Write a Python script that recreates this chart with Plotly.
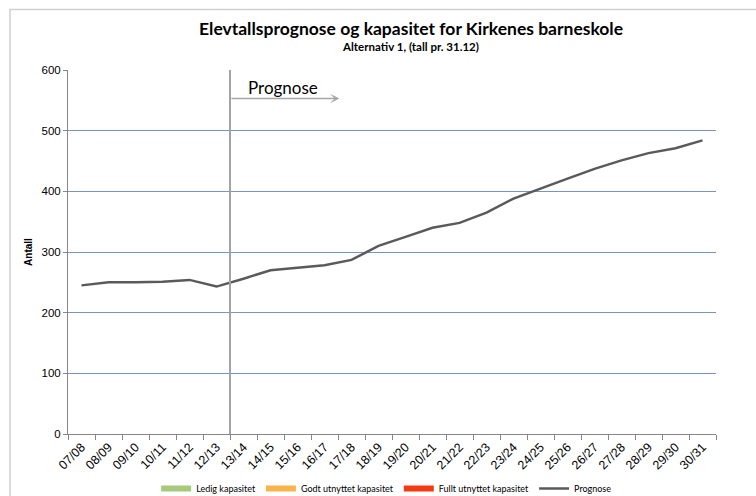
import plotly.graph_objects as go

# School years on the category axis
years = ["07/08", "08/09", "09/10", "10/11", "11/12", "12/13", "13/14", "14/15",
         "15/16", "16/17", "17/18", "18/19", "19/20", "20/21", "21/22", "22/23",
         "23/24", "24/25", "25/26", "26/27", "27/28", "28/29", "29/30", "30/31"]

# Pupil numbers (registered up to 12/13, forecast afterwards)
prognose = [245, 250, 250, 251, 254, 243, 256, 270, 274, 278, 287, 310,
            325, 340, 348, 365, 388, 405, 421, 437, 451, 463, 471, 484]

# Capacity bands (no values drawn in this alternative)
ledig = [None] * len(years)
godt = [None] * len(years)
fullt = [None] * len(years)

y_ticks = [0, 100, 200, 300, 400, 500, 600]

# Start of the forecast period and end of the arrow (category positions)
forecast_start = 5.5
arrow_end = 9.55
arrow_level = 553

fig = go.Figure()

for name, vals, color in [("Ledig kapasitet", ledig, "#a6c97a"),
                          ("Godt utnyttet kapasitet", godt, "#f9b54c"),
                          ("Fullt utnyttet kapasitet", fullt, "#f33a12")]:
    fig.add_trace(go.Scatter(x=years, y=vals, name=name, mode="none",
                             fill="tozeroy", fillcolor=color))
fig.add_trace(go.Scatter(x=years, y=prognose, name="Prognose", mode="lines",
                         line=dict(color="#5a5a5a", width=2.5)))

# Vertical divider marking the forecast start
fig.add_shape(type="line", xref="x", yref="y", x0=forecast_start, x1=forecast_start,
              y0=0, y1=600, line=dict(color="#a3a3a3", width=2), layer="above")

# Arrow pointing into the forecast period
fig.add_annotation(x=arrow_end, y=arrow_level, ax=forecast_start, ay=arrow_level,
                   xref="x", yref="y", axref="x", ayref="y", text="",
                   showarrow=True, arrowhead=3, arrowsize=1.2, arrowwidth=1.3,
                   arrowcolor="#a6a6a6")
fig.add_annotation(x=(forecast_start + 0.6), y=arrow_level, xref="x", yref="y",
                   text="Prognose", showarrow=False, xanchor="left", yanchor="bottom",
                   yshift=-1,
                   font=dict(family="Lato", size=17, color="#000000"))

# Title and subtitle
fig.add_annotation(x=0.529, y=1.0, xref="paper", yref="paper", yanchor="bottom",
                   yshift=29, text="<b>Elevtallsprognose og kapasitet for Kirkenes barneskole</b>",
                   showarrow=False, font=dict(family="Lato", size=17.5, color="#000000"))
fig.add_annotation(x=0.529, y=1.0, xref="paper", yref="paper", yanchor="bottom",
                   yshift=15, text="<b>Alternativ 1, (tall pr. 31.12)</b>",
                   showarrow=False, font=dict(family="Lato", size=11.5, color="#000000"))

# Outer chart frame
fig.add_shape(type="rect", xref="paper", yref="paper",
              x0=(10 - 68) / 648, x1=(760 - 68) / 648,
              y0=(434 - 500) / 364, y1=(434 - 9.5) / 364,
              line=dict(color="#d0d0d0", width=1.5), layer="below")

fig.update_layout(
    width=756, height=496,
    margin=dict(l=68, r=40, t=70, b=62, autoexpand=False),
    paper_bgcolor="white", plot_bgcolor="white",
    font=dict(family="Liberation Sans", color="#000000"),
    showlegend=True,
    legend=dict(orientation="h", x=0.136, xanchor="left", y=-0.11, yanchor="top",
                traceorder="normal",
                font=dict(family="Lato", size=9, color="#000000"),
                itemwidth=30, tracegroupgap=0, bgcolor="rgba(0,0,0,0)"),
    xaxis=dict(type="category", categoryorder="array", categoryarray=years,
               range=[-0.5, len(years) - 0.5], automargin=False,
               tickangle=-45, tickfont=dict(size=12.5),
               showline=True, linecolor="#868686", linewidth=1,
               ticks="outside", tickson="boundaries", ticklen=5, tickcolor="#868686",
               showgrid=False, zeroline=False),
    yaxis=dict(range=[0, 600], tickvals=y_ticks, tickfont=dict(size=11.5),
               automargin=False,
               showline=True, linecolor="#868686", linewidth=1,
               ticks="outside", ticklen=4, tickcolor="#868686",
               showgrid=True, gridcolor="#7896be", gridwidth=1,
               zeroline=False,
               title=dict(text="<b>Antall</b>", font=dict(size=10), standoff=7)),
)

fig.write_html("out.html")
